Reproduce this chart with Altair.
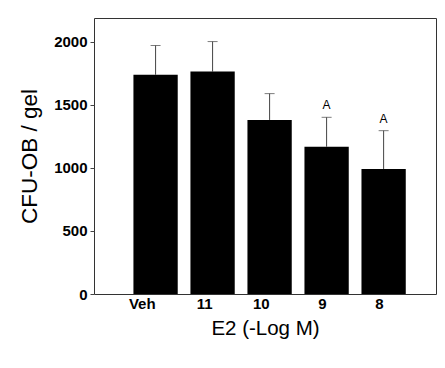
import altair as alt
import pandas as pd

categories = ["Veh", "11", "10", "9", "8"]
means = [1740, 1765, 1381, 1169, 992]
errors = [232, 238, 209, 233, 304]
marks = ["", "", "", "A", "A"]

df = pd.DataFrame({
    "dose": categories,
    "mean": means,
    "top": [m + e for m, e in zip(means, errors)],
    "mark": marks,
})

FONT = "Liberation Sans"

xscale = alt.Scale(domain=categories, paddingInner=0.223, paddingOuter=0.611, align=0.566)
yscale = alt.Scale(domain=[0, 2190], nice=False, zero=True)

x = alt.X("dose:N", scale=xscale, sort=categories,
          axis=alt.Axis(title="E2 (-Log M)", labelAngle=0, ticks=False, tickSize=0,
                        domain=False, labelPadding=9, labelFont=FONT, labelFontSize=15,
                        labelFontWeight="bold", labelColor="black", titleFont=FONT,
                        titleFontSize=20.5, titleFontWeight="normal", titleColor="black",
                        titlePadding=7))
y = alt.Y("mean:Q", scale=yscale,
          axis=alt.Axis(title="CFU-OB / gel", values=[0, 500, 1000, 1500, 2000], format="d",
                        grid=False, domain=False, tickSize=4, tickColor="#444", labelPadding=3,
                        labelFont=FONT, labelFontSize=15, labelFontWeight="bold",
                        labelColor="black", titleFont=FONT, titleFontSize=22.5,
                        titleFontWeight="normal", titleColor="black", titlePadding=12))

base = alt.Chart(df)

stems = base.mark_rule(color="#444", strokeWidth=1).encode(
    x=alt.X("dose:N", scale=xscale, sort=categories),
    y=alt.Y("mean:Q", scale=yscale),
    y2="top:Q",
)
caps = base.mark_tick(color="#444", thickness=1, size=10, orient="horizontal").encode(
    x=alt.X("dose:N", scale=xscale, sort=categories),
    y=alt.Y("top:Q", scale=yscale),
)
bars = base.mark_bar(color="black").encode(x=x, y=y)
labels = base.mark_text(font=FONT, fontSize=12, dy=-8, baseline="alphabetic", color="black").encode(
    x=alt.X("dose:N", scale=xscale, sort=categories),
    y=alt.Y("top:Q", scale=yscale),
    text="mark:N",
)

chart = alt.layer(stems, caps, bars, labels).properties(
    width=342, height=276,
    autosize=alt.AutoSizeParams(type="none"),
    padding={"left": 86, "top": 10, "right": 1, "bottom": 66},
).configure_view(stroke="#333", strokeWidth=1)

chart.save("out.html", embed_options={"renderer": "svg", "actions": False})
